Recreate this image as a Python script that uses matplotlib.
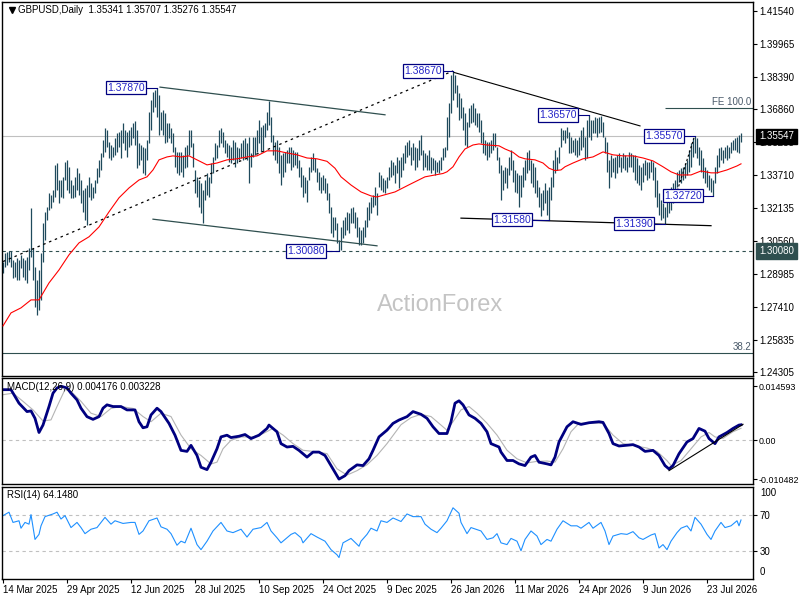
import numpy as np
import matplotlib.pyplot as plt

plt.rcParams['font.family'] = ['Liberation Sans', 'DejaVu Sans']

symbol = 'GBPUSD,Daily'
last_ohlc = [1.35341, 1.35707, 1.35276, 1.35547]

# daily bar highs / lows, one value per bar
highs = [
    1.2956, 1.2999, 1.3004, 1.3009, 1.3009, 1.2966, 1.2956, 1.2975, 1.2966, 1.2990,
    1.2975, 1.2966, 1.2980, 1.3023, 1.3214, 1.3023, 1.2932, 1.2870, 1.2918, 1.2999,
    1.3142, 1.3195, 1.3219, 1.3285, 1.3276, 1.3300, 1.3419, 1.3428, 1.3347, 1.3347,
    1.3362, 1.3433, 1.3443, 1.3410, 1.3347, 1.3324, 1.3362, 1.3405, 1.3381, 1.3347,
    1.3300, 1.3309, 1.3324, 1.3362, 1.3333, 1.3314, 1.3347, 1.3405, 1.3443, 1.3476,
    1.3538, 1.3595, 1.3586, 1.3529, 1.3514, 1.3505, 1.3548, 1.3572, 1.3576, 1.3586,
    1.3619, 1.3586, 1.3576, 1.3586, 1.3600, 1.3619, 1.3629, 1.3586, 1.3524, 1.3514,
    1.3505, 1.3500, 1.3538, 1.3672, 1.3729, 1.3767, 1.3777, 1.3787, 1.3753, 1.3672,
    1.3681, 1.3667, 1.3619, 1.3619, 1.3595, 1.3572, 1.3505, 1.3481, 1.3481, 1.3481,
    1.3467, 1.3505, 1.3514, 1.3586, 1.3586, 1.3524, 1.3395, 1.3362, 1.3347, 1.3333,
    1.3300, 1.3347, 1.3381, 1.3362, 1.3428, 1.3457, 1.3524, 1.3514, 1.3586, 1.3595,
    1.3576, 1.3538, 1.3524, 1.3514, 1.3505, 1.3538, 1.3529, 1.3505, 1.3500, 1.3524,
    1.3538, 1.3548, 1.3524, 1.3553, 1.3476, 1.3553, 1.3553, 1.3586, 1.3634, 1.3600,
    1.3610, 1.3619, 1.3672, 1.3724, 1.3648, 1.3562, 1.3529, 1.3538, 1.3505, 1.3467,
    1.3476, 1.3481, 1.3491, 1.3505, 1.3505, 1.3491, 1.3481, 1.3481, 1.3443, 1.3410,
    1.3371, 1.3362, 1.3347, 1.3410, 1.3457, 1.3476, 1.3452, 1.3405, 1.3386, 1.3362,
    1.3371, 1.3357, 1.3333, 1.3285, 1.3219, 1.3171, 1.3171, 1.3142, 1.3061, 1.3123,
    1.3157, 1.3171, 1.3195, 1.3190, 1.3214, 1.3219, 1.3195, 1.3171, 1.3123, 1.3109,
    1.3123, 1.3157, 1.3219, 1.3242, 1.3266, 1.3276, 1.3314, 1.3285, 1.3386, 1.3371,
    1.3357, 1.3347, 1.3362, 1.3410, 1.3443, 1.3433, 1.3419, 1.3457, 1.3443, 1.3457,
    1.3476, 1.3514, 1.3529, 1.3538, 1.3505, 1.3524, 1.3505, 1.3500, 1.3538, 1.3562,
    1.3491, 1.3476, 1.3467, 1.3491, 1.3457, 1.3452, 1.3443, 1.3433, 1.3443, 1.3457,
    1.3500, 1.3505, 1.3648, 1.3715, 1.3848, 1.3867, 1.3848, 1.3801, 1.3762, 1.3739,
    1.3696, 1.3667, 1.3624, 1.3691, 1.3705, 1.3715, 1.3691, 1.3667, 1.3667, 1.3634,
    1.3576, 1.3538, 1.3529, 1.3529, 1.3538, 1.3572, 1.3572, 1.3505, 1.3457, 1.3419,
    1.3395, 1.3410, 1.3405, 1.3457, 1.3491, 1.3443, 1.3395, 1.3381, 1.3371, 1.3371,
    1.3410, 1.3443, 1.3481, 1.3491, 1.3443, 1.3428, 1.3410, 1.3347, 1.3314, 1.3285,
    1.3300, 1.3333, 1.3300, 1.3314, 1.3362, 1.3443, 1.3491, 1.3457, 1.3505, 1.3595,
    1.3586, 1.3586, 1.3600, 1.3576, 1.3553, 1.3538, 1.3548, 1.3538, 1.3553, 1.3586,
    1.3600, 1.3553, 1.3634, 1.3657, 1.3634, 1.3634, 1.3648, 1.3643, 1.3648, 1.3652,
    1.3624, 1.3553, 1.3529, 1.3443, 1.3467, 1.3452, 1.3457, 1.3467, 1.3476, 1.3457,
    1.3476, 1.3467, 1.3457, 1.3481, 1.3476, 1.3467, 1.3467, 1.3452, 1.3419, 1.3410,
    1.3428, 1.3443, 1.3433, 1.3433, 1.3443, 1.3433, 1.3410, 1.3347, 1.3285, 1.3252,
    1.3238, 1.3219, 1.3266, 1.3285, 1.3314, 1.3333, 1.3347, 1.3386, 1.3395, 1.3405,
    1.3410, 1.3428, 1.3443, 1.3491, 1.3524, 1.3548, 1.3557, 1.3548, 1.3505, 1.3491,
    1.3452, 1.3410, 1.3395, 1.3371, 1.3357, 1.3347, 1.3410, 1.3467, 1.3500, 1.3505,
    1.3491, 1.3505, 1.3514, 1.3505, 1.3529, 1.3538, 1.3548, 1.3553, 1.3562, 1.35707,
]
lows = [
    1.2904, 1.2932, 1.2942, 1.2956, 1.2932, 1.2880, 1.2885, 1.2870, 1.2870, 1.2928,
    1.2885, 1.2870, 1.2856, 1.2918, 1.2980, 1.2870, 1.2742, 1.2703, 1.2727, 1.2775,
    1.2956, 1.3061, 1.3157, 1.3204, 1.3214, 1.3242, 1.3266, 1.3300, 1.3238, 1.3266,
    1.3262, 1.3347, 1.3300, 1.3285, 1.3262, 1.3262, 1.3266, 1.3300, 1.3276, 1.3238,
    1.3195, 1.3157, 1.3133, 1.3266, 1.3252, 1.3262, 1.3285, 1.3333, 1.3362, 1.3395,
    1.3457, 1.3481, 1.3505, 1.3452, 1.3443, 1.3457, 1.3467, 1.3481, 1.3505, 1.3452,
    1.3524, 1.3491, 1.3457, 1.3505, 1.3514, 1.3548, 1.3514, 1.3405, 1.3419, 1.3443,
    1.3381, 1.3371, 1.3443, 1.3524, 1.3586, 1.3672, 1.3696, 1.3648, 1.3562, 1.3586,
    1.3562, 1.3524, 1.3529, 1.3548, 1.3524, 1.3481, 1.3410, 1.3381, 1.3371, 1.3386,
    1.3362, 1.3405, 1.3410, 1.3467, 1.3505, 1.3410, 1.3285, 1.3266, 1.3219, 1.3190,
    1.3142, 1.3252, 1.3276, 1.3266, 1.3333, 1.3381, 1.3443, 1.3452, 1.3505, 1.3524,
    1.3505, 1.3476, 1.3457, 1.3433, 1.3428, 1.3443, 1.3410, 1.3428, 1.3443, 1.3452,
    1.3443, 1.3457, 1.3443, 1.3333, 1.3410, 1.3457, 1.3467, 1.3481, 1.3524, 1.3481,
    1.3491, 1.3553, 1.3586, 1.3610, 1.3529, 1.3467, 1.3443, 1.3428, 1.3381, 1.3324,
    1.3362, 1.3386, 1.3428, 1.3428, 1.3395, 1.3410, 1.3419, 1.3405, 1.3362, 1.3314,
    1.3266, 1.3285, 1.3242, 1.3347, 1.3386, 1.3395, 1.3386, 1.3338, 1.3300, 1.3285,
    1.3300, 1.3285, 1.3252, 1.3190, 1.3095, 1.3076, 1.3109, 1.3047, 1.3008, 1.3014,
    1.3071, 1.3085, 1.3109, 1.3095, 1.3142, 1.3142, 1.3118, 1.3076, 1.3037, 1.3037,
    1.3047, 1.3076, 1.3123, 1.3157, 1.3190, 1.3219, 1.3228, 1.3180, 1.3314, 1.3300,
    1.3290, 1.3285, 1.3309, 1.3347, 1.3362, 1.3371, 1.3333, 1.3381, 1.3309, 1.3362,
    1.3395, 1.3428, 1.3457, 1.3467, 1.3419, 1.3443, 1.3395, 1.3410, 1.3443, 1.3467,
    1.3395, 1.3410, 1.3395, 1.3395, 1.3381, 1.3395, 1.3371, 1.3386, 1.3381, 1.3395,
    1.3443, 1.3457, 1.3491, 1.3553, 1.3667, 1.3729, 1.3762, 1.3696, 1.3634, 1.3643,
    1.3586, 1.3514, 1.3505, 1.3600, 1.3619, 1.3624, 1.3610, 1.3600, 1.3576, 1.3524,
    1.3476, 1.3467, 1.3443, 1.3457, 1.3476, 1.3491, 1.3505, 1.3443, 1.3381, 1.3252,
    1.3300, 1.3333, 1.3309, 1.3371, 1.3395, 1.3338, 1.3290, 1.3285, 1.3219, 1.3266,
    1.3314, 1.3347, 1.3381, 1.3395, 1.3333, 1.3314, 1.3285, 1.3266, 1.3219, 1.3176,
    1.3204, 1.3238, 1.3180, 1.3158, 1.3252, 1.3314, 1.3381, 1.3395, 1.3428, 1.3505,
    1.3538, 1.3524, 1.3548, 1.3476, 1.3476, 1.3481, 1.3467, 1.3457, 1.3467, 1.3491,
    1.3505, 1.3443, 1.3452, 1.3553, 1.3538, 1.3572, 1.3572, 1.3553, 1.3572, 1.3576,
    1.3553, 1.3476, 1.3386, 1.3309, 1.3362, 1.3386, 1.3357, 1.3381, 1.3410, 1.3386,
    1.3405, 1.3395, 1.3386, 1.3410, 1.3410, 1.3386, 1.3347, 1.3333, 1.3324, 1.3300,
    1.3338, 1.3371, 1.3347, 1.3357, 1.3386, 1.3347, 1.3266, 1.3219, 1.3180, 1.3157,
    1.3166, 1.3139, 1.3171, 1.3190, 1.3204, 1.3238, 1.3252, 1.3314, 1.3338, 1.3333,
    1.3347, 1.3357, 1.3371, 1.3386, 1.3410, 1.3457, 1.3476, 1.3452, 1.3419, 1.3386,
    1.3357, 1.3333, 1.3314, 1.3300, 1.3290, 1.3272, 1.3333, 1.3381, 1.3410, 1.3443,
    1.3428, 1.3452, 1.3443, 1.3452, 1.3476, 1.3491, 1.3491, 1.3481, 1.3476, 1.35276,
]

# red moving average, read at some bars
ma_bar = [0, 4, 9, 14, 18, 23, 28, 33, 38, 43, 48, 53, 58, 63, 68, 72, 75, 78, 82, 85,
          89, 93, 97, 102, 107, 112, 117, 122, 127, 132, 137, 142, 147, 152, 157, 162,
          166, 169, 174, 179, 184, 187, 196, 203, 211, 220, 222, 225, 228, 231, 235,
          238, 242, 248, 251, 255, 258, 261, 266, 270, 273, 276, 279, 281, 285, 290,
          295, 300, 305, 310, 315, 320, 325, 330, 334, 338, 344, 349, 354, 357, 362,
          367, 369]
ma_val = [1.2651, 1.2713, 1.2737, 1.2775, 1.2775, 1.2856, 1.2918, 1.2990, 1.3047, 1.3076,
          1.3123, 1.3195, 1.3262, 1.3309, 1.3347, 1.3362, 1.3395, 1.3443, 1.3457, 1.3462,
          1.3457, 1.3462, 1.3443, 1.3419, 1.3428, 1.3443, 1.3448, 1.3457, 1.3462, 1.3486,
          1.3486, 1.3476, 1.3467, 1.3452, 1.3448, 1.3436, 1.3403, 1.3362, 1.3323, 1.3290,
          1.3271, 1.3266, 1.3290, 1.3324, 1.3362, 1.3378, 1.3386, 1.3410, 1.3457, 1.3495,
          1.3514, 1.3519, 1.3514, 1.3510, 1.3495, 1.3479, 1.3457, 1.3448, 1.3443, 1.3428,
          1.3403, 1.3392, 1.3395, 1.3410, 1.3428, 1.3448, 1.3457, 1.3481, 1.3467, 1.3462,
          1.3462, 1.3452, 1.3438, 1.3410, 1.3386, 1.3371, 1.3371, 1.3390, 1.3381, 1.3381,
          1.3395, 1.3414, 1.3424]

macd_bar = [0, 4, 8, 12, 14, 16, 18, 20, 23, 25, 27, 29, 32, 34, 37, 39, 42, 45, 48, 50,
            52, 55, 59, 62, 66, 68, 70, 72, 74, 77, 79, 83, 86, 89, 92, 94, 97, 99, 102, 104,
            107, 109, 112, 114, 118, 121, 124, 128, 132, 133, 137, 139, 142, 145, 148,
            152, 155, 158, 161, 163, 166, 168, 171, 173, 177, 180, 183, 185, 188, 192,
            195, 198, 202, 205, 209, 212, 215, 218, 222, 224, 226, 228, 230, 233, 236,
            239, 242, 244, 248, 249, 252, 255, 258, 261, 264, 266, 268, 272, 274, 276,
            278, 282, 285, 289, 293, 298, 300, 303, 305, 308, 315, 318, 321, 325, 328,
            331, 333, 335, 338, 342, 345, 348, 351, 353, 356, 358, 362, 365, 368, 369]
macd_val = [0.01365, 0.01365, 0.0100, 0.00774, 0.00792,
            0.00592, 0.00209, 0.0041, 0.0091, 0.0127,
            0.0141, 0.01459, 0.0141, 0.0127, 0.0109,
            0.00865, 0.00637, 0.00564, 0.00637, 0.00865,
            0.00956, 0.0091, 0.0091, 0.00819, 0.00819,
            0.005, 0.00337, 0.00364, 0.00683, 0.00865,
            0.00774, 0.00455, 0.00137, -0.00273, -0.003,
            -0.00137, -0.0041, -0.00728, -0.00792, -0.00592,
            -0.00228, 0.00091, 0.00137, 0.00073, 0.00109,
            0.00155, 0.00046, 0.00137, 0.00319, 0.0041,
            0.00228, -0.00091, -0.00182, -0.00164, -0.00273,
            -0.00455, -0.00319, -0.00319, -0.0041, -0.00592,
            -0.00865, -0.010482, -0.00956, -0.00819, -0.00664,
            -0.00683, -0.005, -0.00273, 0.00091, 0.00273,
            0.00455, 0.00546, 0.00637, 0.00774, 0.007,
            0.00592, 0.00364, 0.00182, 0.00182, 0.005,
            0.0100, 0.01065, 0.00956, 0.00683, 0.00592,
            0.00455, 0.00228, -0.00091, -0.00182, -0.00319,
            -0.00546, -0.00546, -0.00637, -0.00683, -0.00455,
            -0.0041, -0.00592, -0.00637, -0.00664, -0.00455,
            -0.00046, 0.00364, 0.005, 0.00428, 0.00473,
            0.005, 0.00482, 0.00182, -0.00091, -0.00155,
            -0.00118, -0.00182, -0.003, -0.00273, -0.0041,
            -0.00683, -0.00774, -0.00683, -0.00364, -0.00046,
            0.00046, 0.00319, 0.00246, 0.00046, -0.00091,
            0.00091, 0.00209, 0.00319, 0.0041, 0.004176]

sig_bar = [0, 5, 10, 15, 20, 24, 27, 31, 34, 39, 44, 49, 54, 59, 65, 70, 74, 79, 84, 89,
           94, 99, 104, 107, 110, 114, 119, 125, 130, 135, 140, 145, 150, 155, 162, 167,
           172, 177, 182, 187, 192, 199, 204, 209, 214, 219, 222, 225, 229, 233, 237, 242,
           247, 252, 257, 262, 267, 272, 276, 280, 284, 288, 294, 300, 305, 310, 317, 322,
           327, 332, 334, 339, 344, 349, 353, 356, 360, 365, 369]
sig_val = [0.0123, 0.0127, 0.0105, 0.0082, 0.0052, 0.0055, 0.0091, 0.0137, 0.0132, 0.0105,
           0.0073, 0.0064, 0.0086, 0.0091, 0.0086, 0.0064, 0.0050, 0.0073, 0.0064, 0.0014,
           -0.0023, -0.0041, -0.0064, -0.0059, -0.0023, 0.0, 0.0009, 0.0009, 0.0018, 0.0032,
           0.0014, -0.0009, -0.0027, -0.0030, -0.0036, -0.0077, -0.0094, -0.0082, -0.0066,
           -0.0041, -0.0009, 0.0042, 0.0061, 0.0070, 0.0064, 0.0041, 0.0027, 0.0050, 0.0082,
           0.0091, 0.0073, 0.0046, 0.0014, -0.0027, -0.0050, -0.0061, -0.0057, -0.0056,
           -0.0059, -0.0023, 0.0023, 0.0046, 0.0046, 0.0046, 0.0014, -0.0009, -0.0016,
           -0.0021, -0.0030, -0.0055, -0.0068, -0.0055, -0.0023, 0.0009, 0.0021, 0.0009,
           0.0005, 0.0023, 0.003228]

rsi_bar = [0, 3, 5, 8, 9, 11, 13, 14, 16, 18, 19, 21, 25, 27, 29, 31, 34, 37, 39, 41,
           44, 47, 51, 54, 56, 60, 64, 66, 68, 70, 73, 77, 79, 82, 84, 87, 89, 91, 94, 97,
           99, 102, 105, 109, 112, 115, 119, 122, 125, 129, 132, 134, 137, 139, 144, 146,
           149, 150, 154, 157, 161, 164, 167, 168, 170, 174, 178, 179, 182, 184, 187, 189,
           192, 195, 199, 202, 205, 209, 211, 214, 217, 219, 222, 225, 228, 229, 232, 234,
           239, 242, 245, 247, 249, 252, 254, 257, 259, 261, 264, 267, 269, 272, 274, 277,
           280, 284, 287, 289, 293, 295, 299, 301, 303, 305, 309, 312, 315, 318, 320, 324,
           326, 328, 330, 332, 334, 337, 339, 342, 344, 346, 349, 352, 354, 356, 359, 361,
           364, 367, 368, 369]
rsi_val = [68.9, 72.6, 61.5, 63.3, 55.2, 61.5, 59.6, 70.0, 43.0, 48.5,
           57.8, 67.8, 70.7, 72.6, 65.2, 68.9, 55.9, 61.5, 55.9, 49.3,
           54.1, 55.9, 67.0, 59.6, 63.3, 60.4, 61.5, 61.5, 48.5, 52.2,
           63.3, 66.3, 56.7, 54.1, 49.3, 36.7, 41.1, 39.3, 55.2, 37.4,
           31.9, 41.1, 52.2, 61.5, 52.2, 50.4, 54.1, 45.6, 54.1, 55.9,
           61.5, 52.2, 44.8, 39.3, 48.5, 50.4, 44.8, 39.3, 49.3, 45.6,
           41.1, 31.9, 26.3, 23.3, 39.3, 44.1, 35.6, 41.1, 48.5, 55.2,
           52.2, 63.3, 61.5, 66.3, 62.5, 70.7, 67.8, 67.8, 59.6, 54.1,
           50.4, 55.2, 63.3, 77.4, 71.5, 61.5, 49.3, 55.9, 52.2, 43.0,
           44.8, 49.3, 39.3, 37.4, 44.1, 41.1, 30.7, 43.0, 52.2, 46.7,
           37.4, 43.0, 41.1, 54.1, 63.3, 57.8, 57.8, 55.2, 61.5, 55.2,
           61.5, 52.2, 37.4, 46.7, 49.3, 48.5, 51.5, 44.8, 43.0, 47.8,
           49.3, 33.7, 37.4, 31.9, 41.1, 50.4, 55.2, 57.8, 52.2, 67.0,
           59.6, 48.5, 43.0, 52.2, 61.5, 55.9, 57.8, 63.3, 57.8, 64.148]

date_labels = ['14 Mar 2025', '29 Apr 2025', '12 Jun 2025', '28 Jul 2025', '10 Sep 2025',
               '24 Oct 2025', '9 Dec 2025', '26 Jan 2026', '11 Mar 2026', '24 Apr 2026',
               '9 Jun 2026', '23 Jul 2026']
bars_per_label = 32

price_ticks = [1.41540, 1.39965, 1.38390, 1.36860, 1.35285, 1.33710,
               1.32135, 1.30560, 1.28985, 1.27410, 1.25835, 1.24305]

# swing point labels: text, price, bar of the swing
swing_text = ['1.37870', '1.38670', '1.36570', '1.35570', '1.32720', '1.31580', '1.31390', '1.30080']
swing_price = [1.3787, 1.3867, 1.3657, 1.3557, 1.3272, 1.3158, 1.3139, 1.3008]
swing_bar = [77, 225, 293, 346, 355, 273, 331, 168]
box_bar = [61.5, 210, 277.5, 330.5, 340, 254.5, 315.5, 151.5]

# hand drawn objects: (bar, bar), (price, price)
chan_top = ([78.5, 191], [1.3790, 1.3658])
chan_bot = ([75, 187], [1.3160, 1.3033])
rise_line = ([0, 225], [1.2958, 1.3867])
fall_line = ([225.5, 318.5], [1.3860, 1.3605])
support_line = ([229, 354], [1.3165, 1.3129])
swing_dots = ([336.5, 345.5], [1.3276, 1.3548])
macd_trend = ([333, 370], [-0.0082, 0.0043])
level_low = 1.30080
fe100 = 1.3691
fib382 = 1.2522

bar_col = '#1f4a5c'
slate = '#2f4f4f'
xlim = (-0.5, 375)

fig = plt.figure(figsize=(8, 6), dpi=100)
ax = fig.add_axes([0.0025, 1 - 376 / 600, 0.93875, 374 / 600])
axm = fig.add_axes([0.0025, 1 - 484 / 600, 0.93875, 106 / 600])
axr = fig.add_axes([0.0025, 1 - 579 / 600, 0.93875, 92 / 600])

x = np.arange(len(highs))

# ---- price panel
ax.vlines(x, lows, highs, color=bar_col, lw=0.9, zorder=2)
ax.plot(ma_bar, ma_val, color='red', lw=0.8, zorder=3)
ax.axhline(last_ohlc[3], color='#c0c0c0', lw=0.8, zorder=1)
ax.axhline(level_low, color=slate, lw=0.8, ls=(0, (3, 3)), zorder=1)
ax.axhline(fib382, color=slate, lw=0.8, zorder=1)
ax.hlines(fe100, 331, xlim[1], color=slate, lw=0.8)
ax.text(374, fe100 + 0.0005, 'FE 100.0', ha='right', va='bottom', fontsize=7, color='#4a5a6a')
ax.text(374, fib382 + 0.0005, '38.2', ha='right', va='bottom', fontsize=7, color='#4a5a6a')

ax.plot(*chan_top, color=slate, lw=0.9)
ax.plot(*chan_bot, color=slate, lw=0.9)
ax.plot(*rise_line, color='black', lw=0.9, ls=(0, (2, 3)))
ax.plot(*fall_line, color='black', lw=0.8)
ax.plot(*support_line, color='black', lw=0.9)
ax.plot(*swing_dots, color='black', lw=0.8, ls=(0, (2, 2)))

for txt, p, b, bx in zip(swing_text, swing_price, swing_bar, box_bar):
    ax.plot([bx + 10.5, b], [p, p], color='#000080', lw=0.8, zorder=5)
    ax.text(bx, p, txt, ha='center', va='center', fontsize=7.5, color='#2424c8', zorder=6,
            bbox=dict(boxstyle='square,pad=0.15', fc='white', ec='#000080', lw=0.9))

ax.text(0.5832, 0.19, 'ActionForex', transform=ax.transAxes, ha='center', va='center',
        fontsize=17, color='#c4c4c4', zorder=0)
ax.plot(0.0133, 0.979, marker='v', ms=4, color='black', transform=ax.transAxes, clip_on=False)
title = symbol + '  ' + ' '.join(f'{v:.5f}' for v in last_ohlc)
ax.text(0.0213, 0.979, title, transform=ax.transAxes, ha='left', va='center', fontsize=7)

ax.set_ylim(1.2412, 1.4196)
ax.set_yticks(price_ticks)
ax.set_yticklabels([f'{v:.5f}' for v in price_ticks])

ytr = ax.get_yaxis_transform()
ax.text(1.0 + 6 / 751, last_ohlc[3], f'{last_ohlc[3]:.5f}', transform=ytr, ha='left', va='center',
        fontsize=7, color='white', clip_on=False, zorder=10,
        bbox=dict(boxstyle='square,pad=0.3', fc='black', ec='black'))
ax.text(1.0 + 6 / 751, level_low, f'{level_low:.5f}', transform=ytr, ha='left', va='center',
        fontsize=7, color='white', clip_on=False, zorder=10,
        bbox=dict(boxstyle='square,pad=0.3', fc=slate, ec=slate))

# ---- MACD panel
axm.axhline(0, color='#c0c0c0', lw=0.8, ls=(0, (3, 3)))
axm.plot(sig_bar, sig_val, color='#b4b4b4', lw=0.8)
axm.plot(macd_bar, macd_val, color='#000080', lw=2.0)
axm.plot(*macd_trend, color='black', lw=0.8)
axm.set_ylim(-0.0118, 0.0168)
axm.set_yticks([0.014593, 0.0, -0.010482])
axm.set_yticklabels(['0.014593', '0.00', '-0.010482'])
axm.text(0.0067, 0.915, f'MACD(12,26,9) {macd_val[-1]:.6f} {sig_val[-1]:.6f}',
         transform=axm.transAxes, ha='left', va='center', fontsize=7)

# ---- RSI panel
for lv in (70, 30):
    axr.axhline(lv, color='#c0c0c0', lw=0.8, ls=(0, (3, 3)))
axr.plot(rsi_bar, rsi_val, color='#1e90ff', lw=0.8)
axr.set_ylim(0, 100)
axr.set_yticks([70, 30])
axr.set_yticklabels(['70', '30'])
axr.text(1.0093, 0.935, '100', transform=axr.transAxes, ha='left', va='center', fontsize=7)
axr.text(1.0093, 0.076, '0', transform=axr.transAxes, ha='left', va='center', fontsize=7)
axr.text(0.0067, 0.913, f'RSI(14) {rsi_val[-1]:.4f}', transform=axr.transAxes,
         ha='left', va='center', fontsize=7)

tick_pos = np.arange(len(date_labels)) * bars_per_label
axr.set_xticks(tick_pos)
axr.set_xticklabels(date_labels)
for lbl in axr.get_xticklabels():
    lbl.set_ha('left')
axr.tick_params(axis='x', direction='out', length=3, width=0.8, pad=1, labelsize=7)

for a in (ax, axm, axr):
    a.set_xlim(*xlim)
    a.yaxis.tick_right()
    a.tick_params(axis='y', direction='out', length=3, width=0.8, pad=1.5, labelsize=7)
    for s in a.spines.values():
        s.set_color('black')
        s.set_linewidth(1.0)
    a.set_facecolor('white')
for a in (ax, axm):
    a.tick_params(axis='x', bottom=False, labelbottom=False)
# the MACD scale labels are longer, keep them inside the picture
axm.tick_params(axis='y', labelsize=6.4, pad=1)

fig.savefig('out.png', dpi=100)
